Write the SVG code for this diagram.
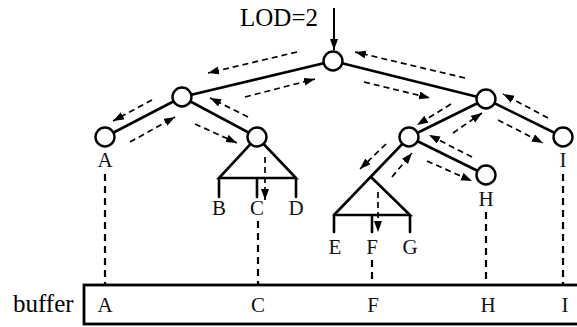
<svg xmlns="http://www.w3.org/2000/svg" width="577" height="327" viewBox="0 0 577 327">
<style>
.edge{stroke:#000;stroke-width:2.6;fill:none;stroke-linecap:round}
.node{fill:#fff;stroke:#000;stroke-width:2.4}
.trav{stroke:#000;stroke-width:1.7;stroke-dasharray:6 4;fill:none;marker-end:url(#ah)}
.drop{stroke:#000;stroke-width:2.2;stroke-dasharray:7 5;fill:none}
.lbl{font-family:"Liberation Serif","Times New Roman",serif;font-size:21px;text-anchor:middle;fill:#111}
.ser{font-family:"Liberation Serif","Times New Roman",serif;font-size:25px;fill:#000}
</style>
<defs>
<marker id="ah" markerUnits="userSpaceOnUse" markerWidth="12" markerHeight="9" refX="11" refY="4" orient="auto">
<path d="M0,0 L11,4 L0,8 z" fill="#000"/>
</marker>
</defs>
<g id="lod">
<text class="ser" x="240" y="26">LOD=2</text>
<line x1="334" y1="8" x2="334" y2="50" stroke="#000" stroke-width="2" marker-end="url(#ah)"/>
</g>
<g id="edges">
<line class="edge" x1="333" y1="61" x2="182" y2="97"/>
<line class="edge" x1="333" y1="61" x2="486" y2="99"/>
<line class="edge" x1="182" y1="97" x2="105" y2="137"/>
<line class="edge" x1="182" y1="97" x2="257" y2="137"/>
<line class="edge" x1="486" y1="99" x2="409" y2="137"/>
<line class="edge" x1="486" y1="99" x2="563" y2="137"/>
<line class="edge" x1="409" y1="137" x2="486" y2="175"/>
<line class="edge" x1="409" y1="137" x2="334" y2="215"/>
</g>
<g id="subtreeC">
<path class="edge" d="M257,137 L219,178 L296,178 Z M219,178 V197 M257,178 V197 M296,178 V197"/>
</g>
<g id="subtreeF">
<path class="edge" d="M372,178 L410,215 L334,215 M334,215 V232 M372,215 V232 M410,215 V232"/>
</g>
<g id="nodes">
<circle id="root" class="node" cx="333" cy="61" r="9.5"/>
<circle id="nL1" class="node" cx="182" cy="97" r="9.5"/>
<circle id="nA" class="node" cx="105" cy="137" r="9.5"/>
<circle id="nC" class="node" cx="257" cy="137" r="9.5"/>
<circle id="nR1" class="node" cx="486" cy="99" r="9.5"/>
<circle id="nN2" class="node" cx="409" cy="137" r="9.5"/>
<circle id="nH" class="node" cx="486" cy="175" r="9.5"/>
<circle id="nI" class="node" cx="563" cy="137" r="9.5"/>
</g>
<g id="traversal">
<line class="trav" x1="297" y1="52" x2="208" y2="73"/>
<line class="trav" x1="245" y1="97" x2="315" y2="79"/>
<line class="trav" x1="152" y1="100" x2="113" y2="121"/>
<line class="trav" x1="130" y1="142" x2="175" y2="117"/>
<line class="trav" x1="195" y1="124" x2="237" y2="143"/>
<line class="trav" x1="248" y1="117" x2="210" y2="98"/>
<line class="trav" x1="265" y1="157" x2="265" y2="200"/>
<line class="trav" x1="465" y1="78" x2="355" y2="52"/>
<line class="trav" x1="364" y1="82" x2="430" y2="98"/>
<line class="trav" x1="451" y1="104" x2="417" y2="125"/>
<line class="trav" x1="453" y1="133" x2="482" y2="113"/>
<line class="trav" x1="498" y1="120" x2="543" y2="143"/>
<line class="trav" x1="548" y1="118" x2="503" y2="94"/>
<line class="trav" x1="427" y1="161" x2="472" y2="181"/>
<line class="trav" x1="472" y1="157" x2="429" y2="135"/>
<line class="trav" x1="386" y1="144" x2="360" y2="169"/>
<line class="trav" x1="392" y1="177" x2="412" y2="153"/>
<line class="trav" x1="378" y1="192" x2="378" y2="232"/>
</g>
<g id="labels">
<text class="lbl" x="105" y="167">A</text>
<text class="lbl" x="219" y="215">B</text>
<text class="lbl" x="257" y="215">C</text>
<text class="lbl" x="296" y="215">D</text>
<text class="lbl" x="335" y="254">E</text>
<text class="lbl" x="372" y="254">F</text>
<text class="lbl" x="410" y="254">G</text>
<text class="lbl" x="486" y="206">H</text>
<text class="lbl" x="563" y="167">I</text>
</g>
<g id="drops">
<line class="drop" x1="105" y1="174" x2="105" y2="284"/>
<line class="drop" x1="258" y1="221" x2="258" y2="284"/>
<line class="drop" x1="372" y1="260" x2="372" y2="284"/>
<line class="drop" x1="486" y1="212" x2="486" y2="284"/>
<line class="drop" x1="563" y1="174" x2="563" y2="284"/>
</g>
<g id="buffer">
<text class="ser" x="13" y="312">buffer</text>
<rect x="84" y="285" width="510" height="39" fill="none" stroke="#000" stroke-width="2.8"/>
<text class="lbl" x="105" y="312">A</text>
<text class="lbl" x="258" y="312">C</text>
<text class="lbl" x="373" y="312">F</text>
<text class="lbl" x="488" y="312">H</text>
<text class="lbl" x="565" y="312">I</text>
</g>
</svg>
